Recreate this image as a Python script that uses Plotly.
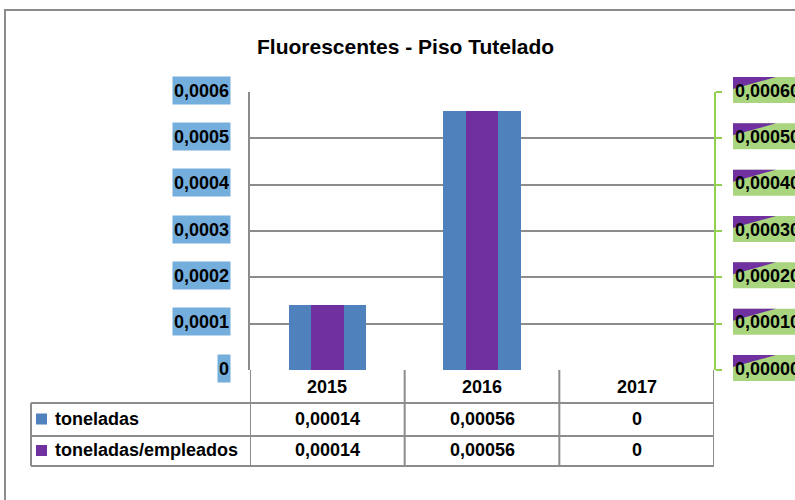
import plotly.graph_objects as go

# ---------------- data ----------------
title = "Fluorescentes - Piso Tutelado"
categories = ["2015", "2016", "2017"]
series_names = ["toneladas", "toneladas/empleados"]
toneladas = [0.00014, 0.00056, 0.0]
toneladas_empleados = [0.00014, 0.00056, 0.0]
tick_vals = [0, 0.0001, 0.0002, 0.0003, 0.0004, 0.0005, 0.0006]
left_tick_text = ["0", "0,0001", "0,0002", "0,0003", "0,0004", "0,0005", "0,0006"]
right_tick_text = ["0,00000", "0,00010", "0,00020", "0,00030", "0,00040", "0,00050", "0,00060"]

# ---------------- styling ----------------
W, H = 795, 500
ML, MR, MT, MB = 250, 81, 92, 130
PW, PH = W - ML - MR, H - MT - MB
YMAX = 0.0006
BLUE = "#4f81bd"
PURPLE = "#7030a0"
GRAY = "#8c8c8c"
GREEN_LINE = "#92d050"
GREEN_BG = "#a9d57f"
LBLUE_BG = "#74aedd"
FONT = "Liberation Sans"


def fx(X):  # screen pixel -> paper x
    return (X - ML) / PW


def fy(Y):  # screen pixel -> paper y
    return (H - MB - Y) / PH


def fmt(v):
    return "0" if v == 0 else f"{v:.5f}".replace(".", ",")


fig = go.Figure()
fig.add_trace(go.Bar(x=categories, y=toneladas, name=series_names[0], width=0.5,
                     marker=dict(color=BLUE, line=dict(width=0)),
                     yaxis="y", hoverinfo="skip"))
fig.add_trace(go.Bar(x=categories, y=toneladas_empleados, name=series_names[1], width=0.21,
                     marker=dict(color=PURPLE, line=dict(width=0)),
                     yaxis="y2", hoverinfo="skip"))

shapes = []
annotations = []

# outer chart border
shapes.append(dict(type="rect", xref="paper", yref="paper", x0=fx(5), x1=fx(900),
                   y0=fy(600), y1=fy(10), line=dict(color=GRAY, width=2), layer="below"))

# left tick labels with light-blue background
for v, t in zip(tick_vals, left_tick_text):
    annotations.append(dict(x=0, xref="paper", y=v, yref="y", text=f"<b>{t}</b>",
                            showarrow=False, xanchor="right", yanchor="middle",
                            xshift=-19, yshift=2, height=25, bgcolor=LBLUE_BG, borderpad=1,
                            font=dict(family=FONT, size=18, color="black")))

# right tick labels: green box with purple corner triangle
for v, t in zip(tick_vals, right_tick_text):
    yp = v / YMAX
    shapes.append(dict(type="rect", xref="paper", yref="paper", xsizemode="pixel", ysizemode="pixel",
                       xanchor=1, yanchor=yp, x0=19, x1=120, y0=-11, y1=15,
                       fillcolor=GREEN_BG, line=dict(width=0), layer="above"))
    shapes.append(dict(type="path", xref="paper", yref="paper", xsizemode="pixel", ysizemode="pixel",
                       xanchor=1, yanchor=yp, path="M19,15 L62,15 L19,3 Z",
                       fillcolor=PURPLE, line=dict(width=0), layer="above"))
    annotations.append(dict(x=1, xref="paper", y=yp, yref="paper", text=f"<b>{t}</b>",
                            showarrow=False, xanchor="left", yanchor="middle",
                            xshift=19, yshift=2, height=25, borderpad=1,
                            font=dict(family=FONT, size=18, color="black")))

# data table lines
row_y = [370, 403, 436, 466]
for Y in row_y[1:]:
    shapes.append(dict(type="line", xref="paper", yref="paper", x0=fx(31), x1=1,
                       y0=fy(Y), y1=fy(Y), line=dict(color=GRAY, width=2)))
for k in range(len(categories) + 1):
    shapes.append(dict(type="line", xref="x", yref="paper", x0=k - 0.5, x1=k - 0.5,
                       y0=fy(row_y[-1]), y1=0, line=dict(color=GRAY, width=2)))
shapes.append(dict(type="line", xref="paper", yref="paper", x0=fx(31), x1=fx(31),
                   y0=fy(row_y[1]), y1=fy(row_y[-1]), line=dict(color=GRAY, width=2)))

# category header texts
for i, c in enumerate(categories):
    annotations.append(dict(x=i, xref="x", y=fy((row_y[0] + row_y[1]) / 2), yref="paper",
                            text=f"<b>{c}</b>", showarrow=False, xanchor="center", yanchor="middle",
                            yshift=0, font=dict(family=FONT, size=18, color="black")))

# table rows
series_vals = [toneladas, toneladas_empleados]
colors = [BLUE, PURPLE]
for r, (name, vals, col) in enumerate(zip(series_names, series_vals, colors)):
    yc = fy((row_y[r + 1] + row_y[r + 2]) / 2)
    shapes.append(dict(type="rect", xref="paper", yref="paper", xsizemode="pixel", ysizemode="pixel",
                       xanchor=fx(31), yanchor=yc, x0=5, x1=16, y0=-5, y1=6,
                       fillcolor=col, line=dict(width=0)))
    annotations.append(dict(x=fx(53), xref="paper", y=yc, yref="paper", text=f"<b>{name}</b>",
                            showarrow=False, xanchor="left", yanchor="middle", yshift=1,
                            font=dict(family=FONT, size=18, color="black")))
    for i, v in enumerate(vals):
        annotations.append(dict(x=i, xref="x", y=yc, yref="paper", text=f"<b>{fmt(v)}</b>",
                                showarrow=False, xanchor="center", yanchor="middle", yshift=1,
                                font=dict(family=FONT, size=18, color="black")))

# title
annotations.append(dict(x=fx(405), xref="paper", y=fy(47), yref="paper", text=f"<b>{title}</b>",
                        showarrow=False, xanchor="center", yanchor="middle",
                        font=dict(family=FONT, size=21, color="black")))

fig.update_layout(
    width=W, height=H,
    margin=dict(l=ML, r=MR, t=MT, b=MB, pad=0),
    paper_bgcolor="white", plot_bgcolor="white",
    barmode="overlay", bargap=0,
    showlegend=False,
    hovermode=False,
    xaxis=dict(type="category", range=[-0.5, 2.5], showticklabels=False, showgrid=False,
               zeroline=False, showline=False, ticks=""),
    yaxis=dict(range=[0, YMAX], tickvals=tick_vals, showticklabels=False, showgrid=True,
               gridcolor=GRAY, gridwidth=2, zeroline=False, showline=True,
               linecolor=GRAY, linewidth=2, ticks=""),
    yaxis2=dict(range=[0, YMAX], tickvals=tick_vals, overlaying="y", side="right",
                showticklabels=False, showgrid=False, zeroline=False, showline=True,
                linecolor=GREEN_LINE, linewidth=2, ticks="outside", ticklen=6,
                tickcolor=GREEN_LINE, tickwidth=2),
    shapes=shapes, annotations=annotations,
)

fig.write_html("out.html", config={"displayModeBar": False},
               post_script="document.body.style.margin='0';document.body.style.overflow='hidden';")
